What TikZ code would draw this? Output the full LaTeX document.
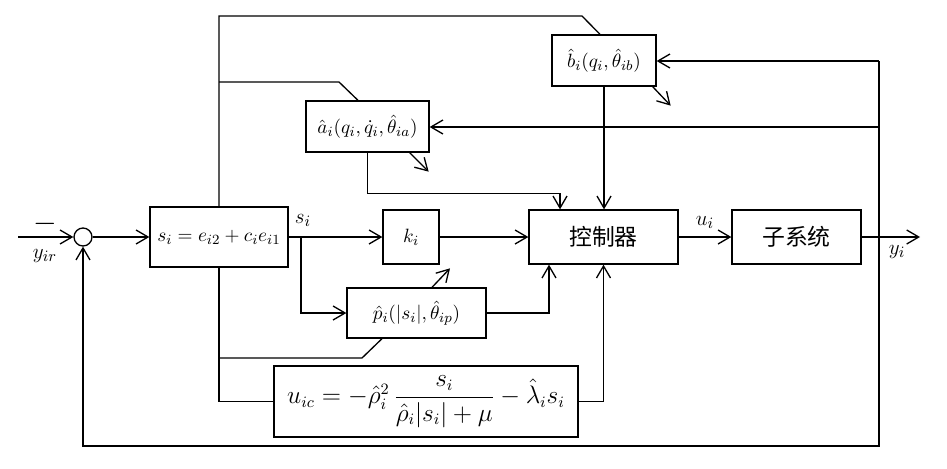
\documentclass[tikz,border=0pt]{standalone}
\usepackage{amsmath, amssymb}
\usepackage{fontspec}
\newfontfamily\cjk{Noto Sans CJK SC}
\usetikzlibrary{arrows.meta, calc}

\tikzset{
  blk/.style={draw, line width=0.75pt, inner sep=0pt, font=\fontsize{11}{13}\selectfont},
  cn/.style={font=\cjk\fontsize{13}{15}\selectfont},
  lbl/.style={font=\fontsize{13}{15}\selectfont, inner sep=0pt}
}

\begin{document}
\begin{tikzpicture}[x=0.2mm, y=-0.2mm, line width=0.75pt,
  >={Straight Barb[length=2.4mm,width=2.8mm]}]
\useasboundingbox (0,0) rectangle (947,468);
% blocks
\node[draw, circle, minimum size=3.6mm, inner sep=0pt] (sum) at (83,237) {};
\node[blk, minimum width=27.6mm, minimum height=12mm] (s) at (219,237) {$s_i = e_{i2} + c_i e_{i1}$};
\node[blk, minimum width=11.2mm, minimum height=10.8mm] (k) at (411,237) {$k_i$};
\node[blk, cn, minimum width=29.8mm, minimum height=10.8mm] (ctrl) at (603.5,237) {控制器};
\node[blk, cn, minimum width=25.8mm, minimum height=10.8mm] (sys) at (796.5,237) {子系统};
\node[blk, minimum width=24.6mm, minimum height=10.2mm] (a) at (367.5,126.5) {$\hat{a}_i(q_i,\dot{q}_i,\hat{\theta}_{ia})$};
\node[blk, minimum width=20.8mm, minimum height=10.2mm] (b) at (604,60.5) {$\hat{b}_i(q_i,\hat{\theta}_{ib})$};
\node[blk, minimum width=27.8mm, minimum height=10mm] (p) at (416.5,313) {$\hat{p}_i(|s_i|,\hat{\theta}_{ip})$};
\node[blk, minimum width=60.8mm, minimum height=14.2mm, font=\fontsize{13.5}{16}\selectfont] (u) at (426,401.5)
  {$u_{ic} = -\hat{\rho}_i^2 \,\dfrac{s_i}{\hat{\rho}_i|s_i| + \mu} - \hat{\lambda}_i s_i$};

% points
\coordinate (in) at (18,237);
\coordinate (out) at (920,237);
\coordinate (r1) at (879,61);
\coordinate (r2) at (879,127);
\coordinate (fb) at (879,446);
\coordinate (si) at (301,237);

% forward path
\draw[->] (in) -- (sum);
\draw[->] (sum) -- (s);
\draw[->] (s) -- (k);
\draw[->] (k) -- (ctrl);
\draw[->] (ctrl) -- (sys);
\draw[->] (sys.east) -- (out);
\draw[->] (si) |- (p.west);
\draw[->] (p.east) -| ($(ctrl.south)+(-54.5,0)$);
\draw (s.south) |- (u.west);
\draw[->] (u.east) -| (ctrl.south);

% adaptive laws
\draw (s.north) -- (219,16) -- (582,16) -- ($(b.north)+(-4,0)$);
\draw (219,82) -- (339,82) -- ($(a.north)+(-9.5,0)$);
\draw (219,358) -- (362,358) -- ($(p.south)+(-34.5,0)$);
\draw[->] ($(b.south east)+(-4,0)$) -- ++(18,19);
\draw[->] ($(a.south east)+(-20,0)$) -- ++(19,19);
\draw[->] ($(p.north)+(15.5,0)$) -- ++(18,-19);
\draw[->] (a.south) -- ++(0,41) -| ($(ctrl.north)+(-43.5,0)$);
\draw[->] (b.south) -- (b.south |- ctrl.north);

% feedback
\draw[->] (r1) -- (r1 -| b.east);
\draw[->] (r2) -- (r2 -| a.east);
\draw[->] (r1) -- (fb) -| (sum.south);

% labels
\fill[black] (45,224) circle (0pt) node[lbl, font=\fontsize{16}{18}\selectfont] {$-$};
\fill[black] (45,256) circle (0pt) node[lbl] {$y_{ir}$};
\fill[black] (303,227) circle (0pt) node[lbl, anchor=south] {$s_i$};
\fill[black] (705,229) circle (0pt) node[lbl, anchor=south] {$u_i$};
\fill[black] (897,245) circle (0pt) node[lbl, anchor=north] {$y_i$};
\end{tikzpicture}
\end{document}
